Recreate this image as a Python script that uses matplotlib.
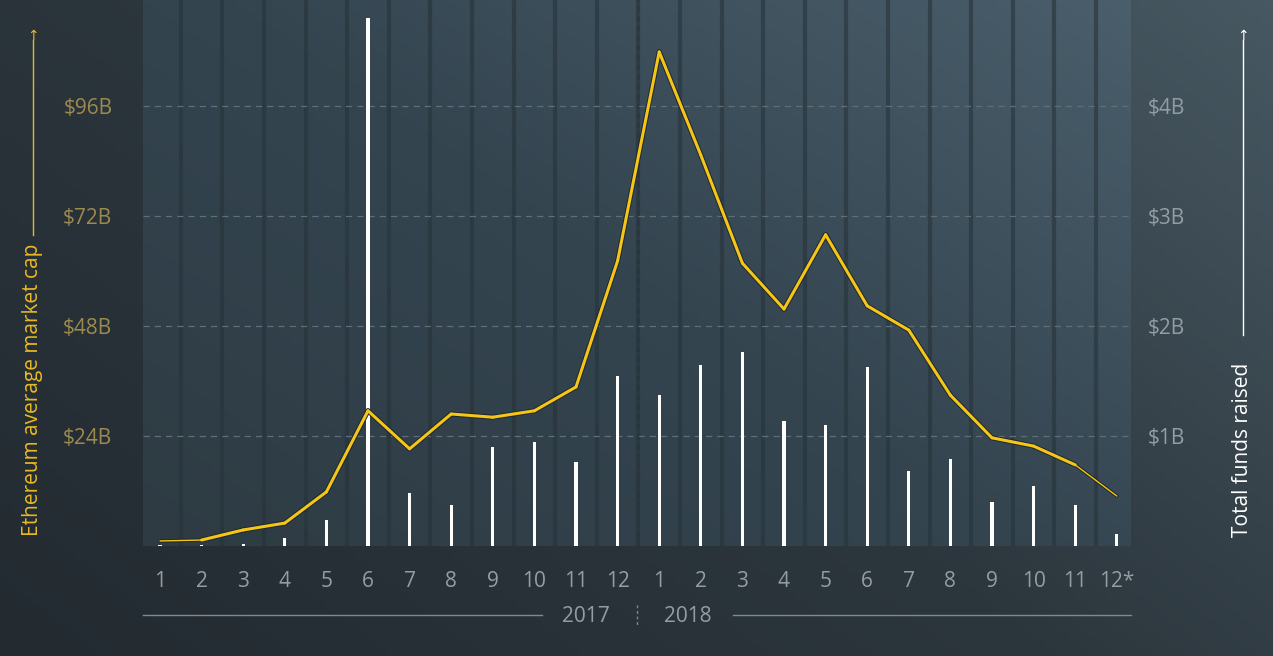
import numpy as np
import matplotlib
matplotlib.use("Agg")
import matplotlib.pyplot as plt
from matplotlib.colors import LinearSegmentedColormap

months = ["1", "2", "3", "4", "5", "6", "7", "8", "9", "10", "11", "12",
          "1", "2", "3", "4", "5", "6", "7", "8", "9", "10", "11", "12*"]
# Ethereum average market cap, $B
market_cap = [1.1, 1.3, 3.5, 5.0, 11.8, 29.5, 21.2, 28.8, 28.1, 29.5, 34.7, 62.2,
              107.8, 85.3, 61.7, 51.7, 67.9, 52.4, 47.1, 32.9, 23.6, 21.8, 17.7, 10.9]
# Total funds raised, $B
funds = [0.01, 0.01, 0.02, 0.07, 0.24, 4.8, 0.48, 0.37, 0.9, 0.95, 0.76, 1.55,
         1.37, 1.65, 1.76, 1.14, 1.1, 1.63, 0.68, 0.79, 0.4, 0.55, 0.37, 0.11]
left_ticks = [24, 48, 72, 96]
right_ticks = [1, 2, 3, 4]

W, H = 1273, 656
fig = plt.figure(figsize=(W / 100, H / 100), dpi=100)

# figure background gradient
bg = fig.add_axes([0, 0, 1, 1], zorder=-10)
bg.axis("off")
yy, xx = np.mgrid[0:1:200j, 0:1:200j]
g = 0.6 * xx + 0.4 * (1 - yy)
cmap_bg = LinearSegmentedColormap.from_list("bg", ["#232b31", "#2c363d", "#475862"])
bg.imshow(g, cmap=cmap_bg, aspect="auto", extent=[0, 1, 0, 1], origin="upper")

x0, x1, ytop, ybot = 143, 1131, 0, 546
ax = fig.add_axes([x0 / W, 1 - ybot / H, (x1 - x0) / W, (ybot - ytop) / H])
xi = np.arange(len(months))
xlo = (x0 - 160) / 41.6
xhi = (x1 - 160) / 41.6
ymax = ybot / 110 * 24
ax.set_xlim(xlo, xhi)
ax.set_ylim(0, ymax)

cmap_p = LinearSegmentedColormap.from_list("p", ["#2e3b43", "#344550", "#4a5e6b"])
g2 = 0.55 * xx + 0.45 * yy
ax.imshow(g2, cmap=cmap_p, aspect="auto", extent=[xlo, xhi, 0, ymax], origin="lower", zorder=0)

for x in np.arange(-0.5, 24, 1):
    ax.axvline(x, color="#27333a", lw=3, alpha=0.6, zorder=1)
for t in left_ticks:
    ax.axhline(t, color="#5e6f79", lw=0.9, ls=(0, (5, 4)), zorder=1)
ax.axvline(11.5, color="#27333a", lw=1, ls=(0, (4, 3)), zorder=1)

ax.bar(xi, [f * 24 for f in funds], width=0.08, color="white", zorder=3)

lc = "#f5c518"
for i in range(len(xi) - 1):
    lw = 1.0 if i in (0, len(xi) - 2) else 2.2
    ax.plot(xi[i:i + 2], market_cap[i:i + 2], color="#1d2830", lw=lw + 1.4, zorder=4,
            solid_capstyle="round")
for i in range(len(xi) - 1):
    lw = 1.0 if i in (0, len(xi) - 2) else 2.2
    ax.plot(xi[i:i + 2], market_cap[i:i + 2], color=lc, lw=lw, zorder=5,
            solid_capstyle="round")

for s in ax.spines.values():
    s.set_visible(False)
ax.set_xticks(xi)
ax.set_xticklabels(months, fontsize=15, color="#939ea4", family="Open Sans")
ax.tick_params(axis="x", length=0, pad=18)
ax.set_yticks(left_ticks)
ax.set_yticklabels([f"${t}B" for t in left_ticks], fontsize=15, color="#9c8a4e", family="Open Sans")
ax.tick_params(axis="y", length=0, pad=22)

ax2 = ax.twinx()
ax2.set_ylim(0, ymax / 24)
ax2.set_yticks(right_ticks)
ax2.set_yticklabels([f"${t}B" for t in right_ticks], fontsize=15, color="#939ea4", family="Open Sans")
ax2.tick_params(axis="y", length=0, pad=12)
for s in ax2.spines.values():
    s.set_visible(False)

# year labels and lines
fig.text(586 / W, 1 - 617 / H, "2017", fontsize=15, color="#939ea4", ha="center", va="center",
         family="Open Sans")
fig.text(688 / W, 1 - 617 / H, "2018", fontsize=15, color="#939ea4", ha="center", va="center",
         family="Open Sans")
fig.add_artist(plt.Line2D([143 / W, 542 / W], [1 - 615 / H] * 2, color="#7d8a91", lw=1))
fig.add_artist(plt.Line2D([733 / W, 1131 / W], [1 - 615 / H] * 2, color="#7d8a91", lw=1))
fig.add_artist(plt.Line2D([637 / W, 637 / W], [1 - 605 / H, 1 - 625 / H], color="#7d8a91",
                          lw=1, ls=(0, (2, 2))))

# axis titles
fig.text(33 / W, 1 - 390 / H, "Ethereum average market cap", rotation=90, fontsize=15,
         color="#e8b923", ha="center", va="center", family="Open Sans")
fig.add_artist(plt.Line2D([33 / W] * 2, [1 - 235 / H, 1 - 40 / H], color="#e8b923", lw=1))
fig.text(33 / W, 1 - 36 / H, "↑", fontsize=10, color="#e8b923", ha="center", va="center")
fig.text(1243 / W, 1 - 450 / H, "Total funds raised", rotation=90, fontsize=15,
         color="white", ha="center", va="center", family="Open Sans")
fig.add_artist(plt.Line2D([1243 / W] * 2, [1 - 335 / H, 1 - 40 / H], color="white", lw=1))
fig.text(1243 / W, 1 - 36 / H, "↑", fontsize=10, color="white", ha="center", va="center")

fig.savefig("out.png", dpi=100)
